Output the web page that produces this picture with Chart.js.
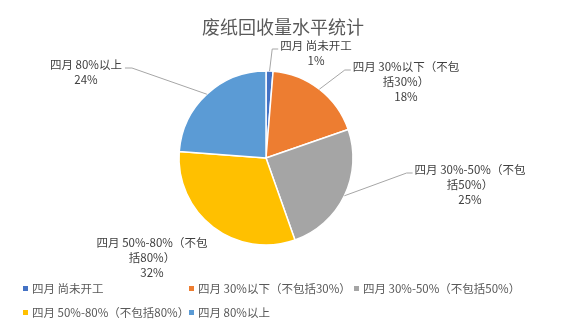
<!DOCTYPE html>
<html>
<head>
<meta charset="utf-8">
<script src="https://cdn.jsdelivr.net/npm/chart.js@4.4.0/dist/chart.umd.min.js"></script>
<style>
  html, body { margin: 0; padding: 0; background: #fff; }
  #chart { display: block; }
</style>
</head>
<body>
<canvas id="chart" width="566" height="326"></canvas>
<script>
const chartTitle = "废纸回收量水平统计"
const categories = ["四月 尚未开工", "四月 30%以下（不包括30%）", "四月 30%-50%（不包括50%）", "四月 50%-80%（不包括80%）", "四月 80%以上"]
// data label text, wrapped the way the picture wraps it
const labelLines = [["四月 尚未开工"], ["四月 30%以下（不包", "括30%）"], ["四月 30%-50%（不包", "括50%）"], ["四月 50%-80%（不包", "括80%）"], ["四月 80%以上"]]
const percents = [1.3, 18.4, 24.9, 31.6, 23.8]
const colors = ["#4472C4", "#ED7D31", "#A5A5A5", "#FFC000", "#5B9BD5"]

// where each data label sits, offset of its first line from the pie centre
const labelOffsets = [[50, -112], [140, -91], [204, 12], [-114, 85], [-180, -93]]
const showLeader = [true, true, true, false, true]

const FONT = "'Noto Sans CJK SC', 'Noto Sans', sans-serif"
Chart.defaults.font.family = FONT

const pieExtras = {
  id: "pieExtras",
  afterDatasetsDraw(chart) {
    const ctx = chart.ctx
    const arcs = chart.getDatasetMeta(0).data
    const total = percents.reduce((a, b) => a + b, 0)
    ctx.save()

    // title
    ctx.font = "18px " + FONT
    ctx.fillStyle = "#595959"
    ctx.textAlign = "center"
    ctx.textBaseline = "middle"
    ctx.fillText(chartTitle, 283, 27)

    // data labels + leader lines
    ctx.font = "11.5px " + FONT
    arcs.forEach((arc, i) => {
      const p = arc.getProps(["x", "y", "startAngle", "endAngle", "outerRadius"], true)
      const mid = (p.startAngle + p.endAngle) / 2
      const ax = p.x + Math.cos(mid) * p.outerRadius
      const ay = p.y + Math.sin(mid) * p.outerRadius
      const lines = labelLines[i].concat([Math.round(percents[i] / total * 100) + "%"])
      const cx = p.x + labelOffsets[i][0]
      const y0 = p.y + labelOffsets[i][1]

      if (showLeader[i]) {
        const w1 = ctx.measureText(lines[0]).width
        let endX, elbowX
        if (cx > ax) {
          endX = cx - w1 / 2 - 2
          elbowX = endX - 6
        } else {
          endX = cx + w1 / 2 + 3
          elbowX = endX + 7
        }
        const ly = y0 + 3
        ctx.strokeStyle = "#A6A6A6"
        ctx.lineWidth = 1
        ctx.beginPath()
        ctx.moveTo(ax, ay)
        ctx.lineTo(elbowX, ly)
        ctx.lineTo(endX, ly)
        ctx.stroke()
      }

      ctx.fillStyle = "#404040"
      ctx.textAlign = "center"
      lines.forEach((t, j) => ctx.fillText(t, cx, y0 + j * 15))
    })

    // legend, laid out in fixed columns like the picture
    const colX = [23, 189, 354]
    const rowY = [289, 313]
    ctx.textAlign = "left"
    categories.forEach((name, i) => {
      const x = colX[i % 3]
      const y = rowY[Math.floor(i / 3)]
      ctx.fillStyle = colors[i]
      ctx.fillRect(x, y - 3, 5, 5)
      ctx.fillStyle = "#595959"
      ctx.fillText(name, x + 9, y)
    })
    ctx.restore()
  }
}

new Chart(document.getElementById("chart"), {
  type: "pie",
  data: {
    labels: categories,
    datasets: [{
      data: percents,
      backgroundColor: colors,
      borderColor: "#ffffff",
      borderWidth: 1.5
    }]
  },
  options: {
    responsive: false,
    animation: false,
    devicePixelRatio: 1,
    radius: 87,
    layout: { padding: { top: 71, bottom: 81, left: 100, right: 134 } },
    plugins: {
      title: { display: false },
      legend: { display: false },
      tooltip: { enabled: false }
    }
  },
  plugins: [pieExtras]
})
</script>
</body>
</html>
